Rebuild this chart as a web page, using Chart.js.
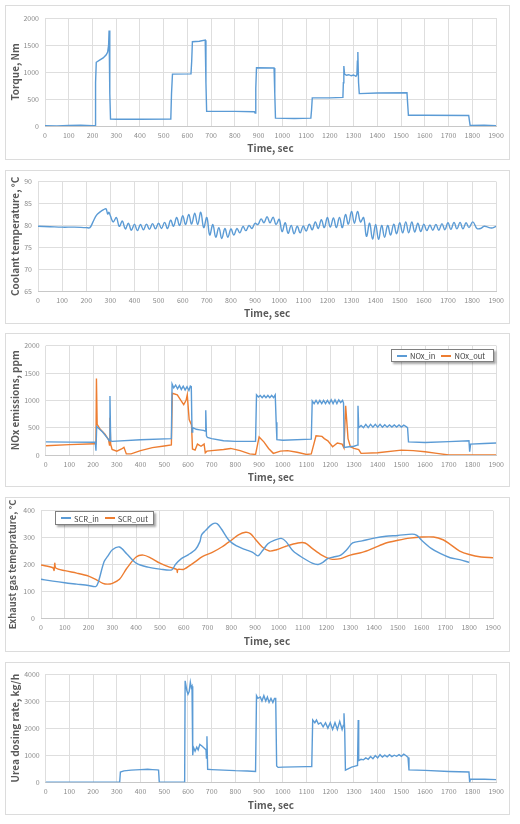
<!DOCTYPE html>
<html>
<head>
<meta charset="utf-8">
<script src="https://cdn.jsdelivr.net/npm/chart.js@4.4.0/dist/chart.umd.min.js"></script>
<style>
  body { margin: 0; background: #fff; width: 520px; height: 824px; position: relative; overflow: hidden; }
  .panel { position: absolute; left: 5px; width: 505px; border: 1px solid #dcdcdc; box-sizing: border-box; background: #fff; }
  .panel canvas { position: absolute; left: 0; top: 0; }
  .legend { position: absolute; background: #fff; border: 1px solid #7f7f7f; box-shadow: 2px 2px 2px rgba(0,0,0,0.35);
            font: 7.5px "Noto Sans CJK KR", sans-serif; color: #404040; display: flex; align-items: center; box-sizing: border-box; padding-left: 5px; white-space: nowrap; }
  .legend .sw { display: inline-block; width: 10px; height: 2px; margin-right: 3px; }
  .legend .item { margin-right: 6px; display: inline-flex; align-items: center; }
</style>
</head>
<body>
<div class="panel" id="p1"><canvas id="c1"></canvas></div>
<div class="panel" id="p2"><canvas id="c2"></canvas></div>
<div class="panel" id="p3"><canvas id="c3"></canvas></div>
<div class="panel" id="p4"><canvas id="c4"></canvas></div>
<div class="panel" id="p5"><canvas id="c5"></canvas></div>
<div class="legend" style="left:391px;top:349px;width:103px;height:13px;">
  <span class="item"><span class="sw" style="background:#5b9bd5"></span>NOx_in</span>
  <span class="item"><span class="sw" style="background:#ed7d31"></span>NOx_out</span>
</div>
<div class="legend" style="left:55px;top:511px;width:99px;height:14px;">
  <span class="item"><span class="sw" style="background:#5b9bd5"></span>SCR_in</span>
  <span class="item"><span class="sw" style="background:#ed7d31"></span>SCR_out</span>
</div>
<script>
// x axis: time, sec
const timeMin = 0, timeMax = 1900, timeStep = 100;

// [time, value] pairs
const torque = [[0,5],[50,0],[100,10],[150,15],[200,5],[208,5],[211,-120],[213,800],[216,1180],[230,1220],[245,1260],[258,1320],[264,1370],[268,1500],[270,1770],[273,600],[276,130],[300,125],[400,125],[530,130],[533,600],[537,960],[615,965],[618,1200],[621,1560],[650,1570],[675,1590],[678,800],[681,270],[800,270],[882,265],[885,240],[888,700],[891,1080],[965,1075],[968,600],[971,145],[1050,140],[1120,145],[1123,300],[1126,520],[1200,520],[1255,530],[1257,800],[1259,1110],[1262,960],[1270,940],[1280,950],[1290,930],[1300,945],[1310,920],[1314,950],[1316,1200],[1318,1370],[1321,800],[1324,600],[1400,610],[1525,615],[1528,400],[1531,200],[1600,200],[1785,195],[1788,100],[1791,10],[1850,15],[1900,5]];

const coolant = [[0,79.8],[50,79.7],[100,79.6],[150,79.6],[200,79.5],[215,79.5],[228,80.8],[242,82.3],[258,83.1],[272,83.6],[282,83.8],[289,82.6],[294,83],[300,82.2],[312,80.8],[325,81.8],[337,79.8],[350,81],[362,79.2],[375,80.5],[387,78.9],[400,80.3],[412,78.8],[425,80.2],[437,79],[450,80.3],[462,79.1],[475,80.4],[487,79.2],[500,80.5],[512,79.3],[525,80.7],[537,79.3],[550,81.2],[562,79.8],[575,81.8],[587,80],[600,82.2],[612,80.2],[625,82.5],[637,80.3],[650,82.8],[662,80.2],[675,83],[687,79.5],[700,81.8],[712,77.8],[725,80.2],[737,77.3],[750,79.5],[762,77],[775,79.3],[787,77.3],[800,79.2],[812,77.8],[825,79.3],[837,78.3],[850,79.8],[862,78.8],[875,80],[887,79.3],[900,80.5],[912,80.2],[925,81.5],[937,80.6],[950,82],[962,80.6],[975,81.9],[987,80.2],[1000,81.4],[1012,78.6],[1025,80.6],[1037,78.2],[1050,80],[1062,78.1],[1075,79.8],[1087,78.3],[1100,79.9],[1112,78.7],[1125,80.3],[1137,79],[1150,80.8],[1162,79.3],[1175,81.3],[1187,79.5],[1200,81.8],[1212,79.6],[1225,81.7],[1237,79.5],[1250,81.8],[1262,79.5],[1275,82.5],[1287,80.3],[1300,83.2],[1312,80.5],[1325,83.2],[1337,80.8],[1350,81.8],[1362,77.5],[1375,80.5],[1387,76.9],[1400,80.2],[1412,76.8],[1425,80],[1437,77.3],[1450,80],[1462,77.8],[1475,80.3],[1487,78.1],[1500,80.6],[1512,78.3],[1525,80.8],[1537,78.3],[1550,80.8],[1562,78.5],[1575,80.5],[1587,78.6],[1600,80.3],[1612,78.8],[1625,80.1],[1637,78.9],[1650,80.2],[1662,78.9],[1675,80.4],[1687,79],[1700,80.6],[1712,79.1],[1725,80.7],[1737,79.2],[1750,80.7],[1762,79.2],[1775,80.6],[1787,79.5],[1803,80.8],[1820,79.3],[1835,79.3],[1850,79.8],[1865,79.6],[1880,79.4],[1900,79.8]];

const noxIn = [[0,240],[100,235],[205,232],[209,232],[212,80],[215,520],[240,420],[262,300],[268,260],[271,1080],[274,260],[280,250],[400,280],[530,300],[533,1300],[540,1230],[548,1280],[556,1210],[564,1270],[572,1200],[580,1260],[588,1190],[596,1250],[604,1180],[610,1260],[614,1250],[617,420],[620,500],[635,470],[650,460],[665,450],[672,440],[675,820],[678,350],[682,320],[700,300],[750,260],[800,250],[885,250],[889,1100],[897,1060],[905,1090],[913,1050],[921,1090],[929,1050],[937,1090],[945,1050],[953,1090],[961,1050],[968,1100],[972,600],[975,280],[1000,270],[1120,290],[1124,990],[1132,940],[1140,1000],[1148,940],[1156,1000],[1164,940],[1172,1000],[1180,940],[1188,1000],[1196,940],[1204,1010],[1212,940],[1220,1010],[1228,940],[1236,1010],[1244,960],[1252,1000],[1256,950],[1259,140],[1280,150],[1300,160],[1314,180],[1317,900],[1320,500],[1330,540],[1340,500],[1350,560],[1360,500],[1370,560],[1380,510],[1390,560],[1400,510],[1410,560],[1420,510],[1430,555],[1440,510],[1450,550],[1460,510],[1470,550],[1480,510],[1490,550],[1500,510],[1510,545],[1520,520],[1526,500],[1530,240],[1600,230],[1700,245],[1785,260],[1788,60],[1792,200],[1850,210],[1900,220]];

const noxOut = [[0,170],[100,190],[209,205],[212,210],[214,1400],[217,560],[230,470],[250,380],[265,280],[269,180],[271,680],[274,200],[280,100],[300,70],[320,110],[330,140],[340,20],[360,20],[400,80],[450,135],[500,165],[530,185],[534,1130],[555,1100],[570,1000],[582,920],[592,1000],[597,1100],[605,650],[615,550],[619,110],[630,90],[640,200],[655,160],[668,200],[673,40],[680,70],[700,80],[750,100],[780,120],[820,80],[860,20],[885,10],[900,330],[920,240],[940,120],[960,30],[990,70],[1020,80],[1060,50],[1100,10],[1120,20],[1140,350],[1165,340],[1175,300],[1190,260],[1210,150],[1230,220],[1250,200],[1258,130],[1265,900],[1275,300],[1285,150],[1300,120],[1320,100],[1330,30],[1400,40],[1500,90],[1550,80],[1600,60],[1650,30],[1700,0],[1900,0]];

const scrIn = [[0,145],[50,138],[100,132],[150,127],[200,122],[230,118],[240,132],[265,210],[280,230],[300,255],[330,265],[360,240],[400,205],[450,190],[500,183],[550,180],[565,200],[590,222],[620,237],[650,257],[668,285],[675,310],[690,325],[720,350],[740,352],[760,330],[790,290],[820,270],[860,255],[890,245],[912,232],[930,250],[955,278],[980,290],[1010,297],[1030,285],[1060,250],[1100,225],[1140,205],[1165,200],[1185,208],[1205,222],[1230,228],[1260,235],[1285,255],[1310,280],[1350,288],[1400,298],[1450,305],[1500,308],[1560,313],[1580,308],[1600,290],[1640,260],[1680,240],[1720,225],[1760,218],[1800,208]];

const scrOut = [[0,198],[50,188],[55,178],[58,205],[62,187],[100,177],[150,168],[200,157],[230,145],[260,130],[280,127],[300,130],[330,145],[360,185],[400,228],[430,235],[460,225],[500,205],[540,190],[570,182],[573,170],[576,182],[600,182],[640,205],[680,230],[720,245],[760,265],[800,290],[830,310],[860,320],[880,315],[900,295],[930,265],[960,250],[990,255],[1030,268],[1080,280],[1110,280],[1140,260],[1180,235],[1220,220],[1260,222],[1300,235],[1350,245],[1400,262],[1450,280],[1500,290],[1550,298],[1600,302],[1650,302],[1690,292],[1720,275],[1760,250],[1800,237],[1850,228],[1900,225]];

const urea = [[0,0],[100,0],[200,0],[312,0],[315,380],[330,420],[360,450],[400,470],[430,480],[450,470],[470,460],[476,450],[479,0],[580,0],[586,0],[588,3750],[595,3400],[600,3250],[605,3350],[610,3700],[614,3500],[617,3550],[620,1000],[623,1300],[630,1150],[637,1300],[643,1200],[650,1400],[660,1330],[670,1250],[676,1200],[678,900],[680,1700],[683,480],[700,470],[750,450],[800,430],[850,420],[885,400],[889,3200],[895,3100],[905,3150],[912,3000],[920,3200],[928,3000],[935,3150],[942,2950],[950,3100],[958,2950],[965,3100],[970,3100],[974,600],[980,550],[1000,560],[1050,570],[1100,580],[1122,580],[1126,2300],[1135,2200],[1142,2300],[1150,2150],[1160,2200],[1170,2050],[1180,2200],[1190,2000],[1200,2200],[1210,1950],[1220,2200],[1230,1950],[1240,2250],[1250,1950],[1255,2100],[1258,2550],[1261,1900],[1264,450],[1275,500],[1290,560],[1305,600],[1315,620],[1318,2300],[1320,800],[1330,850],[1340,830],[1350,900],[1360,850],[1370,950],[1380,870],[1390,990],[1400,900],[1410,1020],[1420,930],[1430,1000],[1440,940],[1450,1020],[1460,950],[1470,1000],[1480,960],[1490,1020],[1500,960],[1510,1040],[1520,980],[1528,920],[1532,460],[1600,440],[1700,400],[1785,380],[1788,0],[1791,120],[1850,110],[1900,100]];

// y axis ranges
const yTorque = { min: 0, max: 2000, step: 500, title: "Torque, Nm" };
const yCoolant = { min: 65, max: 90, step: 5, title: "Coolant temperature, \u00b0C" };
const yNox = { min: 0, max: 2000, step: 500, title: "NOx emissions, ppm" };
const yExhaust = { min: 0, max: 400, step: 100, title: "Exhaust gas temeprature, \u00b0C" };
const yUrea = { min: 0, max: 4000, step: 1000, title: "Urea dosing rate, kg/h" };

const BLUE = "#5b9bd5", ORANGE = "#ed7d31";
const FONT = '"Noto Sans CJK KR", "Noto Sans", sans-serif';

function line(data, color, tension) {
  return {
    data: data.map(p => ({ x: p[0], y: p[1] })),
    borderColor: color, borderWidth: 1.4, pointRadius: 0, fill: false, tension: tension || 0
  };
}

// box: panel position on page, plot: chart area on page
function makeChart(n, box, plot, yAx, datasets, yTitleX, yTitleSize) {
  const panel = document.getElementById("p" + n);
  panel.style.top = box.top + "px";
  panel.style.height = box.height + "px";
  const cw = 503, ch = box.height - 2;
  const ox = 6, oy = box.top + 1;
  const cv = document.getElementById("c" + n);
  cv.width = cw; cv.height = ch;
  const yW = plot.left - ox;
  const xH = (oy + ch) - plot.bottom;
  const titleLH = 12;
  const ySize = yTitleSize || 10;
  new Chart(cv.getContext("2d"), {
    type: "line",
    data: { datasets },
    options: {
      responsive: false, animation: false,
      layout: { padding: { top: plot.top - oy, right: (ox + cw) - plot.right, left: 0, bottom: 0 } },
      plugins: { legend: { display: false }, tooltip: { enabled: false } },
      scales: {
        x: {
          type: "linear", min: timeMin, max: timeMax,
          ticks: { stepSize: timeStep, color: "#8c8c8c", font: { family: FONT, size: 7 }, padding: 5, maxRotation: 0,
                   callback: v => String(v) },
          grid: { color: "#dedede", drawTicks: false },
          border: { color: "#c8c8c8" },
          title: { display: true, text: "Time, sec", color: "#595959", font: { family: FONT, size: 10, weight: "bold", lineHeight: titleLH / 10 },
                   padding: { top: 0, bottom: xH - 22.5 - titleLH / 2 } },
          afterFit: s => { s.height = xH; }
        },
        y: {
          min: yAx.min, max: yAx.max,
          ticks: { stepSize: yAx.step, color: "#8c8c8c", font: { family: FONT, size: 7 }, padding: 6,
                   callback: v => String(v) },
          grid: { color: "#dedede", drawTicks: false },
          border: { display: false },
          title: { display: true, text: yAx.title, color: "#595959", font: { family: FONT, size: ySize, weight: "bold", lineHeight: titleLH / ySize },
                   padding: { top: yTitleX - ox - titleLH / 2, bottom: 0 } },
          afterFit: s => { s.width = yW; }
        }
      }
    }
  });
}

makeChart(1, { top: 5, height: 155 }, { left: 45, right: 496, top: 18, bottom: 126 }, yTorque,
  [line(torque, BLUE)], 15);
makeChart(2, { top: 170, height: 154 }, { left: 38, right: 499, top: 181.7, bottom: 291 }, yCoolant,
  [line(coolant, BLUE, 0.4)], 15);
makeChart(3, { top: 333, height: 154 }, { left: 45.7, right: 496.7, top: 345.7, bottom: 455 }, yNox,
  [line(noxIn, BLUE), line(noxOut, ORANGE)], 15);
makeChart(4, { top: 497, height: 155 }, { left: 41, right: 493, top: 510.7, bottom: 618.3 }, yExhaust,
  [line(scrIn, BLUE, 0.3), line(scrOut, ORANGE, 0.3)], 12, 9.4);
makeChart(5, { top: 662, height: 153 }, { left: 45.7, right: 497.3, top: 674, bottom: 782.3 }, yUrea,
  [line(urea, BLUE)], 15);
</script>
</body>
</html>
